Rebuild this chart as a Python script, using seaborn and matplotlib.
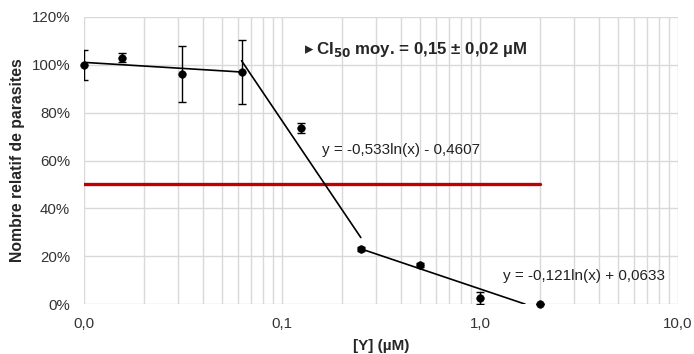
import numpy as np
import pandas as pd
import matplotlib
matplotlib.use("Agg")
import matplotlib.pyplot as plt
import matplotlib.transforms as mtransforms
import seaborn as sns
from matplotlib.ticker import FixedLocator, LogLocator, NullFormatter, PercentFormatter

# Données
concentrations = [0.01, 0.0156, 0.03125, 0.0625, 0.125, 0.25, 0.5, 1.0, 2.0]
parasites = [1.00, 1.03, 0.96, 0.97, 0.736, 0.23, 0.163, 0.027, 0.0]
erreurs = [0.063, 0.02, 0.117, 0.134, 0.02, 0.008, 0.01, 0.025, 0.0]

# Courbes de tendance logarithmiques y = a ln(x) + b
tendance_1 = {"a": -0.022, "b": 0.909, "x": [0.01, 0.0625]}
tendance_2 = {"a": -0.533, "b": -0.4607, "x": [0.0625, 0.25]}
tendance_3 = {"a": -0.121, "b": 0.0633, "x": [0.25, None]}

seuil = 0.5
seuil_x = [0.01, 2.0]

xticks = [0.01, 0.1, 1.0, 10.0]
xtick_labels = ["0,0", "0,1", "1,0", "10,0"]
yticks = [0, 0.2, 0.4, 0.6, 0.8, 1.0, 1.2]

sns.set_style("white")
plt.rcParams["font.family"] = ["Liberation Sans", "DejaVu Sans"]

fig = plt.figure(figsize=(6.94, 3.54), dpi=100)
ax = fig.add_axes([0.121, 0.141, 0.856, 0.811])

grid_col = "#d9d9d9"

# Seuil 50 %
ax.plot(seuil_x, [seuil, seuil], color="#c00000", lw=2.4, zorder=2)

# Tendances
for t in [tendance_1, tendance_2, tendance_3]:
    x0, x1 = t["x"]
    if x1 is None:
        x1 = np.exp(-t["b"] / t["a"])  # là où la droite coupe 0
    xs = np.geomspace(x0, x1, 50)
    df_t = pd.DataFrame({"x": xs, "y": t["a"] * np.log(xs) + t["b"]})
    sns.lineplot(data=df_t, x="x", y="y", color="black", lw=1.2, ax=ax, zorder=3)

# Points et barres d'erreur
ax.errorbar(concentrations, parasites, yerr=erreurs, fmt="none", ecolor="black",
            elinewidth=1, capsize=3, capthick=1, zorder=4)
df = pd.DataFrame({"conc": concentrations, "val": parasites})
sns.scatterplot(data=df, x="conc", y="val", color="black", s=30, edgecolor="black",
                ax=ax, zorder=5, clip_on=False)

ax.set_xscale("log")
ax.set_xlim(0.01, 10)
ax.set_ylim(0, 1.2)
ax.xaxis.set_major_locator(FixedLocator(xticks))
ax.set_xticklabels(xtick_labels)
ax.xaxis.set_minor_locator(LogLocator(base=10, subs=np.arange(2, 10)))
ax.xaxis.set_minor_formatter(NullFormatter())
ax.set_yticks(yticks)
ax.yaxis.set_major_formatter(PercentFormatter(1.0, decimals=0))

ax.grid(True, which="major", color=grid_col, lw=1)
ax.grid(True, which="minor", axis="x", color=grid_col, lw=1)
ax.set_axisbelow(True)
for s in ax.spines.values():
    s.set_visible(False)
ax.tick_params(axis="x", which="major", length=3, color=grid_col, labelsize=10.8, pad=6)
ax.tick_params(axis="x", which="minor", length=0)
ax.tick_params(axis="y", length=0, labelsize=10.8, pad=10)
for lab in ax.get_xticklabels() + ax.get_yticklabels():
    lab.set_color("#333333")

ax.set_xlabel("[Y] (µM)", fontsize=11, fontweight="bold", labelpad=6)
ax.set_ylabel("Nombre relatif de parasites", fontsize=11.3, fontweight="bold", labelpad=5)

# Annotation CI50
ax.text(0.13, 1.065, "▸", fontsize=12, va="center", ha="left", family="DejaVu Sans")
decal = mtransforms.offset_copy(ax.transData, fig=fig, x=11, y=0, units="dots")
ax.text(0.13, 1.065, "CI$_{\\mathbf{50}}$ moy. = 0,15 ± 0,02 µM", fontsize=12.2,
        fontweight="bold", va="center", ha="left", transform=decal)

ax.text(0.159, 0.644, "y = -0,533ln(x) - 0,4607", fontsize=11, va="center",
        ha="left", color="#222222")
ax.text(1.31, 0.117, "y = -0,121ln(x) + 0,0633", fontsize=11, va="center",
        ha="left", color="#222222")

fig.savefig("out.png", dpi=100)
